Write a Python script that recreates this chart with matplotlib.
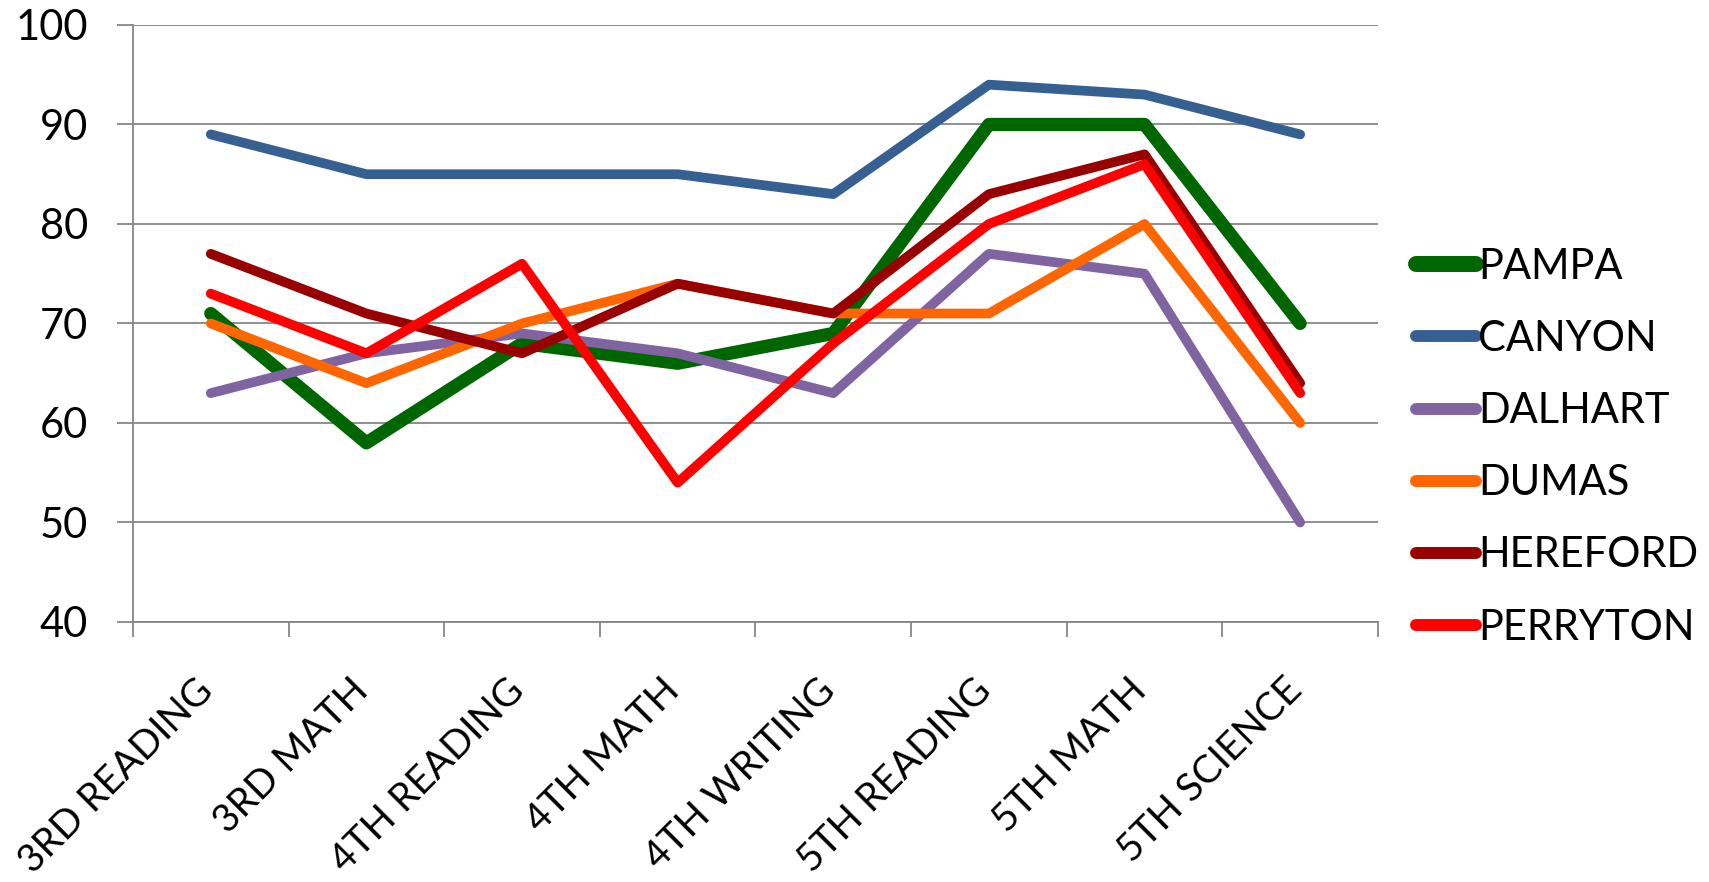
import matplotlib
matplotlib.use('Agg')
import matplotlib.pyplot as plt
import matplotlib.transforms as mtransforms
import numpy as np

plt.rcParams['font.family'] = ['Lato', 'DejaVu Sans']

# data
subjects = ['3RD READING', '3RD MATH', '4TH READING', '4TH MATH',
            '4TH WRITING', '5TH READING', '5TH MATH', '5TH SCIENCE']
pampa    = [71, 58, 68, 66, 69, 90, 90, 70]
canyon   = [89, 85, 85, 85, 83, 94, 93, 89]
dalhart  = [63, 67, 69, 67, 63, 77, 75, 50]
dumas    = [70, 64, 70, 74, 71, 71, 80, 60]
hereford = [77, 71, 67, 74, 71, 83, 87, 64]
perryton = [73, 67, 76, 54, 68, 80, 86, 63]

series = [
    ('PAMPA', pampa, '#006600', 9.5),
    ('CANYON', canyon, '#376092', 7),
    ('DALHART', dalhart, '#8064A2', 7),
    ('DUMAS', dumas, '#FF6600', 7),
    ('HEREFORD', hereford, '#990000', 7),
    ('PERRYTON', perryton, '#FF0000', 7),
]

grid_col = '#868686'

fig = plt.figure(figsize=(17.09, 8.82), dpi=100)
ax = fig.add_axes([0.0778, 0.2948, 0.7285, 0.6769])

x = np.arange(len(subjects))
for name, vals, col, lw in series:
    ax.plot(x, vals, color=col, linewidth=lw, label=name,
            solid_capstyle='round', solid_joinstyle='round')

ax.set_xlim(-0.5, len(subjects) - 0.5)
ax.set_ylim(40, 100)
ax.set_yticks(range(40, 101, 10))
ax.yaxis.grid(True, color=grid_col, linewidth=1.3)
ax.set_axisbelow(True)

# category labels at centres, tick marks at boundaries
ax.set_xticks(x)
ax.set_xticklabels(subjects, rotation=45, ha='right', va='top')
ax.set_xticks(np.arange(-0.5, len(subjects)), minor=True)
ax.tick_params(axis='x', which='major', length=0, pad=36, labelsize=28)
ax.tick_params(axis='x', which='minor', length=11, width=1.3,
               color=grid_col, direction='out')
ax.tick_params(axis='y', length=11.5, width=1.3, color=grid_col,
               direction='out', pad=21, labelsize=30)

shift = mtransforms.ScaledTranslation(9 / 100, 0, fig.dpi_scale_trans)
for lab in ax.get_xticklabels():
    lab.set_transform(lab.get_transform() + shift)

for side in ['top', 'right']:
    ax.spines[side].set_visible(False)
for side in ['left', 'bottom']:
    ax.spines[side].set_color(grid_col)
    ax.spines[side].set_linewidth(1.3)

leg = fig.legend(loc='center left', bbox_to_anchor=(0.8285, 0.493),
                 frameon=False, fontsize=30, handlelength=1.45,
                 handletextpad=0.05, labelspacing=0.82,
                 borderpad=0, borderaxespad=0)
for line in leg.get_lines():
    line.set_solid_capstyle('round')
    line.set_linewidth(11.5 if line.get_label() == 'PAMPA' else 8.6)

fig.savefig('out.png', dpi=100)
